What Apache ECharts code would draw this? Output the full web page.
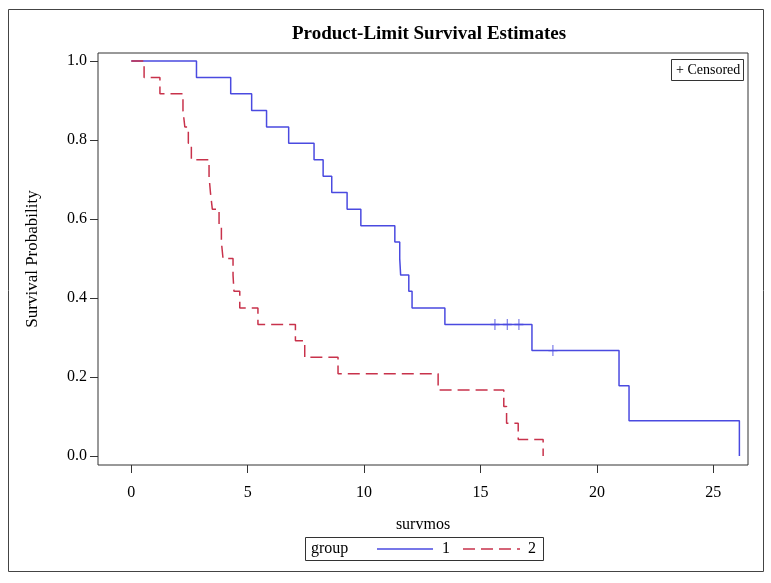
<!DOCTYPE html>
<html>
<head>
<meta charset="utf-8">
<script src="https://cdn.jsdelivr.net/npm/echarts@6/dist/echarts.min.js"></script>
<style>html,body{margin:0;padding:0;background:#fff}#c{width:771px;height:583px}</style>
</head>
<body>
<div id="c"></div>
<script>
var group1Times = [0, 2.80, 4.27, 5.17, 5.81, 6.76, 7.85, 8.24, 8.61, 9.27, 9.86, 11.32, 11.53, 11.57, 11.92, 12.06, 13.47, 17.21, 20.95, 21.38, 26.12];
var group1Surv  = [1, 0.958, 0.917, 0.875, 0.833, 0.792, 0.75, 0.708, 0.667, 0.625, 0.583, 0.542, 0.5, 0.458, 0.417, 0.375, 0.333, 0.267, 0.178, 0.089, 0];
var group1CensorTimes = [15.62, 16.15, 16.65, 18.11];
var group1CensorSurv  = [0.333, 0.333, 0.333, 0.267];
var group2Times = [0, 0.55, 1.23, 2.22, 2.30, 2.45, 2.58, 3.34, 3.40, 3.48, 3.77, 3.87, 3.94, 4.37, 4.41, 4.66, 5.44, 7.05, 7.45, 8.88, 13.18, 16.00, 16.12, 16.62, 17.69];
var group2Surv  = [1, 0.958, 0.917, 0.875, 0.833, 0.792, 0.75, 0.708, 0.667, 0.625, 0.583, 0.542, 0.5, 0.458, 0.417, 0.375, 0.333, 0.292, 0.25, 0.208, 0.167, 0.125, 0.083, 0.042, 0];
var xTicks = [0, 5, 10, 15, 20, 25];
var yTicks = [0, 0.2, 0.4, 0.6, 0.8, 1.0];
var groupNames = ['1', '2'];

var BLUE = '#4a4ae0';
var RED = '#c8324b';
var FONT = '"Liberation Serif", "Times New Roman", serif';

function zip(a, b) { return a.map(function (v, i) { return [v, b[i]]; }); }

var chart = echarts.init(document.getElementById('c'), null, {renderer: 'canvas'});
var plusPath = 'path://M4.4,0h1.2v10h-1.2z M0,4.4h10v1.2h-10z';

chart.setOption({
  animation: false,
  backgroundColor: '#fff',
  title: {
    text: 'Product-Limit Survival Estimates',
    left: 424, top: 20, textAlign: 'center',
    textStyle: {fontFamily: FONT, fontSize: 19, fontWeight: 'bold', color: '#000'}
  },
  grid: {
    left: 98, right: 23, top: 53, bottom: 118,
    show: true, borderColor: '#333', borderWidth: 1, backgroundColor: 'transparent'
  },
  xAxis: {
    type: 'value', min: -1.43, max: 26.49,
    name: 'survmos', nameLocation: 'middle', nameGap: 52,
    nameTextStyle: {fontFamily: FONT, fontSize: 16, color: '#000'},
    axisLine: {show: false, onZero: false},
    axisTick: {show: true, inside: false, length: 8, customValues: xTicks, lineStyle: {color: '#333'}},
    axisLabel: {customValues: xTicks, fontFamily: FONT, fontSize: 16, color: '#000', margin: 20},
    splitLine: {show: false}
  },
  yAxis: {
    type: 'value', min: -0.0228, max: 1.0203,
    name: 'Survival Probability', nameLocation: 'middle', nameGap: 57, nameRotate: 90,
    nameTextStyle: {fontFamily: FONT, fontSize: 17, color: '#000'},
    axisLine: {show: false, onZero: false},
    axisTick: {show: true, inside: false, length: 8, customValues: yTicks, lineStyle: {color: '#333'}},
    axisLabel: {customValues: yTicks, fontFamily: FONT, fontSize: 16, color: '#000', margin: 11,
      formatter: function (v) { return Number(v).toFixed(1); }},
    splitLine: {show: false}
  },
  series: [
    {
      name: groupNames[0], type: 'line', step: 'end', showSymbol: false,
      data: zip(group1Times, group1Surv),
      lineStyle: {color: BLUE, width: 1.5}
    },
    {
      name: groupNames[0] + ' censored', type: 'scatter', symbol: plusPath, symbolSize: [9, 11],
      data: zip(group1CensorTimes, group1CensorSurv),
      itemStyle: {color: BLUE}
    },
    {
      name: groupNames[1], type: 'line', step: 'end', showSymbol: false,
      data: zip(group2Times, group2Surv),
      lineStyle: {color: RED, width: 1.5, type: [12, 6]}
    }
  ],
  graphic: [
    {type: 'rect', shape: {x: 8.5, y: 9.5, width: 755, height: 562}, style: {fill: 'none', stroke: '#444', lineWidth: 1}, silent: true},
    {type: 'rect', shape: {x: 671.5, y: 59.5, width: 72, height: 21}, style: {fill: '#fff', stroke: '#333', lineWidth: 1}},
    {type: 'text', x: 676, y: 70, style: {text: '+ Censored', font: '14px ' + FONT, fill: '#000', verticalAlign: 'middle'}},
    {type: 'rect', shape: {x: 305.5, y: 537.5, width: 238, height: 23}, style: {fill: '#fff', stroke: '#333', lineWidth: 1}},
    {type: 'text', x: 311, y: 549, style: {text: 'group', font: '16px ' + FONT, fill: '#000', verticalAlign: 'middle'}},
    {type: 'line', shape: {x1: 377, y1: 549, x2: 433, y2: 549}, style: {stroke: BLUE, lineWidth: 1.5}},
    {type: 'text', x: 442, y: 549, style: {text: groupNames[0], font: '16px ' + FONT, fill: '#000', verticalAlign: 'middle'}},
    {type: 'line', shape: {x1: 463, y1: 549, x2: 520, y2: 549}, style: {stroke: RED, lineWidth: 1.5, lineDash: [12, 6]}},
    {type: 'text', x: 528, y: 549, style: {text: groupNames[1], font: '16px ' + FONT, fill: '#000', verticalAlign: 'middle'}}
  ]
});
</script>
</body>
</html>
